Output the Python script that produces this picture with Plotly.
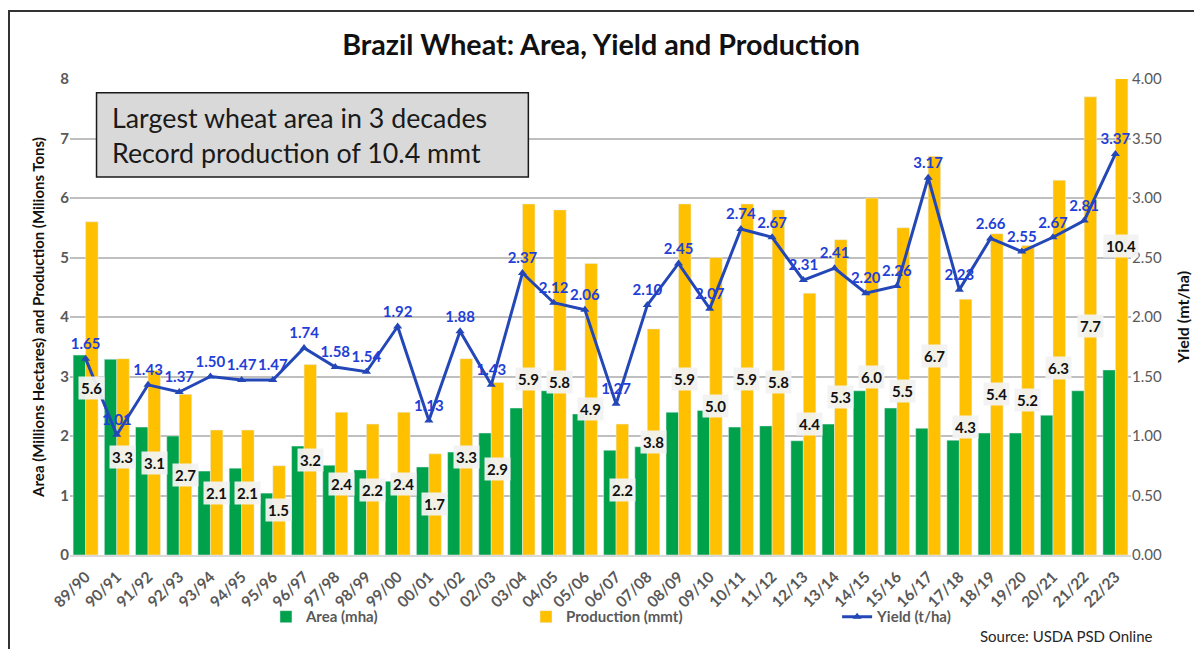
import plotly.graph_objects as go

# ── Data ──────────────────────────────────────────────────────────────────────
years = ["89/90", "90/91", "91/92", "92/93", "93/94", "94/95", "95/96", "96/97",
         "97/98", "98/99", "99/00", "00/01", "01/02", "02/03", "03/04", "04/05",
         "05/06", "06/07", "07/08", "08/09", "09/10", "10/11", "11/12", "12/13",
         "13/14", "14/15", "15/16", "16/17", "17/18", "18/19", "19/20", "20/21",
         "21/22", "22/23"]

area = [3.36, 3.29, 2.15, 2.00, 1.41, 1.46, 1.04, 1.83, 1.51, 1.43, 1.24, 1.48,
        1.73, 2.05, 2.47, 2.76, 2.37, 1.76, 1.82, 2.40, 2.43, 2.15, 2.17, 1.92,
        2.20, 2.76, 2.47, 2.13, 1.93, 2.05, 2.05, 2.35, 2.76, 3.11]

production = [5.6, 3.3, 3.1, 2.7, 2.1, 2.1, 1.5, 3.2, 2.4, 2.2, 2.4, 1.7,
              3.3, 2.9, 5.9, 5.8, 4.9, 2.2, 3.8, 5.9, 5.0, 5.9, 5.8, 4.4,
              5.3, 6.0, 5.5, 6.7, 4.3, 5.4, 5.2, 6.3, 7.7, 10.4]

yld = [1.65, 1.01, 1.43, 1.37, 1.50, 1.47, 1.47, 1.74, 1.58, 1.54, 1.92, 1.13,
       1.88, 1.43, 2.37, 2.12, 2.06, 1.27, 2.10, 2.45, 2.07, 2.74, 2.67, 2.31,
       2.41, 2.20, 2.26, 3.17, 2.23, 2.66, 2.55, 2.67, 2.81, 3.37]

# ── Colours ───────────────────────────────────────────────────────────────────
GREEN = "#00A14B"
GOLD = "#FFC000"
BLUE = "#2447B8"
LABEL_BLUE = "#1F3FD6"
GREY = "#595959"
FONT = "Lato"

fig = go.Figure()
fig.add_trace(go.Bar(name="Area (mha)", x=years, y=area, marker_color=GREEN,
                     legend="legend"))
fig.add_trace(go.Bar(name="Production (mmt)", x=years, y=production,
                     marker_color=GOLD, legend="legend2"))
fig.add_trace(go.Scatter(
    name="Yield (t/ha)", x=years, y=yld, yaxis="y2", legend="legend3",
    mode="lines+markers+text",
    line=dict(color=BLUE, width=3),
    marker=dict(symbol="triangle-up", size=8, color=BLUE),
    text=[f"{v:.2f}" for v in yld], textposition="top center",
    textfont=dict(family=FONT, size=15, color=LABEL_BLUE, weight="bold"),
))

# production labels, centred on the gold bar
annotations = []
for yr, p in zip(years, production):
    annotations.append(dict(
        x=yr, y=p / 2, xref="x", yref="y", xshift=6,
        text=f"{p:.1f}", showarrow=False,
        bgcolor="rgba(242,242,242,0.95)", borderpad=2,
        font=dict(family=FONT, size=15, color="#111111", weight="bold"),
    ))

annotations.append(dict(
    x=0.0377, y=0.882, xref="paper", yref="paper", xanchor="left",
    yanchor="middle", align="left", showarrow=False,
    text="Largest wheat area in 3 decades<br>Record production of 10.4 mmt",
    font=dict(family=FONT, size=26.8, color="#1a1a1a"),
))
annotations.append(dict(
    x=1.0226, y=-0.170, xref="paper", yref="paper", xanchor="right",
    yanchor="middle", showarrow=False, text="Source: USDA PSD Online",
    font=dict(family=FONT, size=15, color="#262626"),
))

shapes = [
    # callout box
    dict(type="rect", xref="paper", yref="paper", x0=0.025, x1=0.432,
         y0=0.794, y1=0.971, fillcolor="#D9D9D9",
         line=dict(color="#1a1a1a", width=1.5), layer="above"),
    # outer frame
    dict(type="rect", xref="paper", yref="paper", x0=-0.0575, x1=1.3,
         y0=-0.4, y1=1.143, line=dict(color="#333333", width=2)),
]

legend_style = dict(orientation="h", xanchor="left", y=-0.13, yanchor="middle",
                    font=dict(family=FONT, size=15, color=GREY, weight="bold"),
                    bgcolor="rgba(0,0,0,0)")

# the page body adds an 8px offset, so the figure is drawn 8px smaller
fig.update_layout(
    width=1194, height=641,
    margin=dict(l=62, r=71, t=71, b=94),
    paper_bgcolor="white", plot_bgcolor="white",
    font=dict(family=FONT, color=GREY),
    title=dict(text="<b>Brazil Wheat: Area, Yield and Production</b>",
               x=0.4967, xanchor="center", y=0.942, yanchor="middle",
               font=dict(family=FONT, size=28.7, color="#111111")),
    barmode="group", bargap=0.2, bargroupgap=0,
    xaxis=dict(tickangle=-45, showgrid=False, showline=True, automargin=False,
               range=[-0.5, len(years) - 0.5], ticklabelstandoff=5,
               linecolor="#D9D9D9", linewidth=1.5,
               tickfont=dict(family=FONT, size=15.5, color=GREY, weight="bold")),
    yaxis=dict(range=[0, 8], dtick=1, showgrid=True, gridcolor="#BFBFBF",
               gridwidth=1.5, zeroline=False, automargin=False,
               tickfont=dict(family=FONT, size=15, color=GREY, weight="bold"),
               title=dict(text="Area (Millions Hectares) and Production (Milions Tons)",
                          standoff=12,
                          font=dict(family=FONT, size=15, color="#111111",
                                    weight="bold"))),
    yaxis2=dict(range=[0, 4], dtick=0.5, tickformat=".2f", overlaying="y",
                side="right", showgrid=False, zeroline=False, automargin=False,
                tickfont=dict(family=FONT, size=15, color=GREY),
                title=dict(text="Yield (mt/ha)", standoff=16,
                           font=dict(family=FONT, size=16, color="#111111",
                                     weight="bold"))),
    legend=dict(x=0.1847, **legend_style),
    legend2=dict(x=0.4298, **legend_style),
    legend3=dict(x=0.723, **legend_style),
    annotations=annotations,
    shapes=shapes,
    showlegend=True,
)

fig.write_html("out.html")
